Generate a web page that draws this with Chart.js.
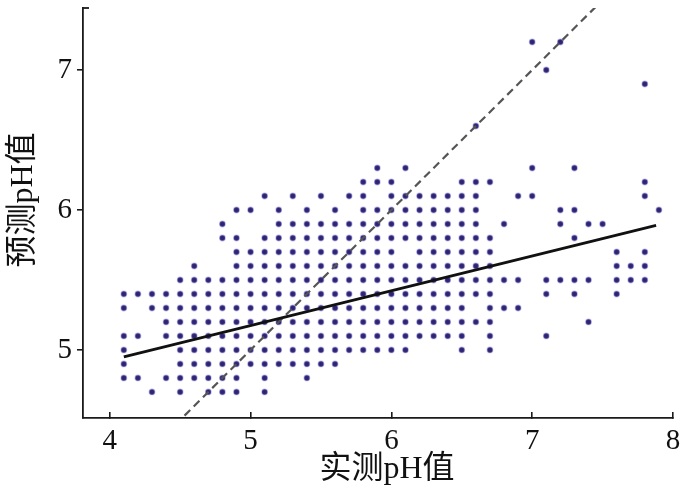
<!DOCTYPE html>
<html>
<head>
<meta charset="utf-8">
<script src="https://cdn.jsdelivr.net/npm/chart.js@4"></script>
<style>
  html, body { margin: 0; padding: 0; background: #fff; }
  canvas { display: block; }
</style>
</head>
<body>
<canvas id="chart" width="700" height="504"></canvas>
<script>
// measured pH of each column of dots
const actualPH = [4.1, 4.2, 4.3, 4.4, 4.5, 4.6, 4.7, 4.8, 4.9, 5.0,
                  5.1, 5.2, 5.3, 5.4, 5.5, 5.6, 5.7, 5.8, 5.9, 6.0,
                  6.1, 6.2, 6.3, 6.4, 6.5, 6.6, 6.7, 6.8, 6.9, 7.0,
                  7.1, 7.2, 7.3, 7.4, 7.5, 7.6, 7.7, 7.8, 7.9];
// predicted pH values present in each column
const predictedPH = [
  [4.8, 4.9, 5.0, 5.1, 5.3, 5.4],
  [4.8, 5.1, 5.4],
  [4.7, 5.3, 5.4],
  [4.8, 5.1, 5.2, 5.3, 5.4],
  [4.7, 4.8, 4.9, 5.0, 5.1, 5.2, 5.3, 5.4, 5.5],
  [4.8, 4.9, 5.0, 5.1, 5.2, 5.3, 5.4, 5.5, 5.6],
  [4.7, 4.8, 4.9, 5.0, 5.1, 5.2, 5.3, 5.4, 5.5],
  [4.7, 4.8, 4.9, 5.0, 5.1, 5.2, 5.3, 5.4, 5.5, 5.8, 5.9],
  [4.7, 4.8, 4.9, 5.0, 5.1, 5.2, 5.3, 5.4, 5.5, 5.6, 5.7, 5.8, 6.0],
  [4.9, 5.0, 5.1, 5.2, 5.3, 5.4, 5.5, 5.6, 5.7, 6.0],
  [4.7, 4.8, 4.9, 5.0, 5.1, 5.2, 5.3, 5.4, 5.5, 5.6, 5.7, 5.8, 6.1],
  [4.9, 5.0, 5.1, 5.2, 5.3, 5.4, 5.5, 5.6, 5.7, 5.8, 5.9, 6.0],
  [4.9, 5.0, 5.1, 5.2, 5.3, 5.4, 5.5, 5.6, 5.7, 5.8, 5.9, 6.1],
  [4.8, 4.9, 5.0, 5.1, 5.2, 5.3, 5.4, 5.5, 5.6, 5.7, 5.8, 5.9, 6.0],
  [4.9, 5.0, 5.1, 5.2, 5.3, 5.4, 5.5, 5.6, 5.7, 5.8, 5.9, 6.1],
  [4.9, 5.0, 5.1, 5.2, 5.3, 5.4, 5.5, 5.6, 5.7, 5.8, 5.9, 6.0],
  [5.0, 5.1, 5.2, 5.3, 5.4, 5.5, 5.6, 5.7, 5.8, 5.9, 6.1],
  [5.0, 5.1, 5.2, 5.3, 5.4, 5.5, 5.6, 5.7, 5.8, 5.9, 6.0, 6.1, 6.2],
  [5.0, 5.1, 5.2, 5.3, 5.4, 5.5, 5.6, 5.7, 5.8, 5.9, 6.0, 6.2, 6.3],
  [5.0, 5.1, 5.2, 5.3, 5.4, 5.5, 5.6, 5.7, 5.8, 5.9, 6.0, 6.1, 6.2],
  [5.0, 5.1, 5.2, 5.3, 5.4, 5.5, 5.6, 5.8, 5.9, 6.0, 6.1, 6.3],
  [5.1, 5.2, 5.3, 5.4, 5.5, 5.6, 5.7, 5.8, 5.9, 6.0, 6.1],
  [5.1, 5.2, 5.3, 5.4, 5.5, 5.6, 5.7, 5.8, 5.9, 6.0, 6.1],
  [5.1, 5.2, 5.3, 5.4, 5.5, 5.6, 5.7, 5.8, 5.9, 6.0, 6.1],
  [5.0, 5.1, 5.2, 5.3, 5.4, 5.5, 5.6, 5.7, 5.8, 5.9, 6.0, 6.1, 6.2],
  [5.2, 5.4, 5.5, 5.6, 5.7, 5.8, 5.9, 6.0, 6.1, 6.2, 6.6],
  [5.0, 5.1, 5.2, 5.3, 5.4, 5.5, 5.6, 5.7, 5.8, 6.2],
  [5.3, 5.5, 5.9],
  [5.3, 5.5, 6.1],
  [6.1, 6.3, 7.2],
  [5.1, 5.4, 5.5, 7.0],
  [5.5, 5.9, 6.0, 7.2],
  [5.4, 5.5, 5.8, 6.0, 6.3],
  [5.2, 5.5, 5.9],
  [5.9],
  [5.4, 5.5, 5.6, 5.7],
  [5.5, 5.6],
  [5.5, 5.6, 5.7, 6.1, 6.2, 6.9],
  [6.0]
];
// fitted regression line and 1:1 line
const fitX = [4.1, 7.88];
const fitY = [4.95, 5.89];
const refX = [4.4, 7.6];
const refY = [4.4, 7.6];
const xTicks = [4, 5, 6, 7, 8];
const yTicks = [5, 6, 7];
const xTitle = '实测pH值';
const yTitle = '预测pH值';

const points = [];
actualPH.forEach((x, i) => {
  predictedPH[i].forEach(y => points.push({ x: x, y: y }));
});

const serif = '"Liberation Serif", "Noto Sans CJK SC", serif';
const axisColor = '#1a1a1a';

// axis titles placed where the original figure has them, plus the small cap on the y axis
const axisDecor = {
  id: 'axisDecor',
  afterDraw(chart) {
    const ctx = chart.ctx;
    const a = chart.chartArea;
    ctx.save();
    ctx.strokeStyle = axisColor;
    ctx.lineWidth = 1.8;
    ctx.beginPath();
    ctx.moveTo(a.left - 0.9, a.top);
    ctx.lineTo(a.left + 6, a.top);
    ctx.stroke();

    ctx.fillStyle = '#111';
    ctx.font = '32px ' + serif;
    ctx.textAlign = 'center';
    ctx.textBaseline = 'middle';
    ctx.fillText(xTitle, a.left + 304, a.bottom + 52);
    ctx.translate(24, a.top + 192);
    ctx.rotate(-Math.PI / 2);
    ctx.fillText(yTitle, 0, 0);
    ctx.restore();
  }
};

new Chart(document.getElementById('chart'), {
  type: 'scatter',
  data: {
    datasets: [
      {
        type: 'line',
        data: fitX.map((x, i) => ({ x: x, y: fitY[i] })),
        borderColor: '#111',
        borderWidth: 2.8,
        pointRadius: 0,
        order: 0
      },
      {
        type: 'line',
        data: refX.map((x, i) => ({ x: x, y: refY[i] })),
        borderColor: '#555',
        borderWidth: 2.2,
        borderDash: [8, 5],
        pointRadius: 0,
        order: 1
      },
      {
        data: points,
        backgroundColor: '#2e2572',
        borderColor: 'rgba(100, 90, 190, 0.4)',
        borderWidth: 1.4,
        pointRadius: 2.7,
        order: 2
      }
    ]
  },
  options: {
    responsive: false,
    animation: false,
    devicePixelRatio: 1,
    layout: { padding: { left: 0, top: 8, right: 27, bottom: 16 } },
    plugins: { legend: { display: false }, tooltip: { enabled: false } },
    scales: {
      x: {
        type: 'linear',
        min: 3.81,
        max: 8,
        afterBuildTicks: s => { s.ticks = xTicks.map(v => ({ value: v })); },
        afterFit: s => { s.height = 70; s.paddingLeft = 0; s.paddingRight = 0; },
        grid: { drawOnChartArea: false, drawTicks: true, tickLength: -6, color: axisColor, lineWidth: 1.6 },
        border: { display: true, color: axisColor, width: 1.8 },
        ticks: { padding: 12, color: '#111', font: { family: serif, size: 29 } },
        title: { display: false }
      },
      y: {
        type: 'linear',
        min: 4.514,
        max: 7.443,
        afterBuildTicks: s => { s.ticks = yTicks.map(v => ({ value: v })); },
        afterFit: s => { s.width = 83; s.paddingTop = 0; s.paddingBottom = 0; },
        grid: { drawOnChartArea: false, drawTicks: true, tickLength: 6, color: axisColor, lineWidth: 1.6 },
        border: { display: true, color: axisColor, width: 1.8 },
        ticks: { padding: 5, color: '#111', font: { family: serif, size: 29 } },
        title: { display: false }
      }
    }
  },
  plugins: [axisDecor]
});
</script>
</body>
</html>
